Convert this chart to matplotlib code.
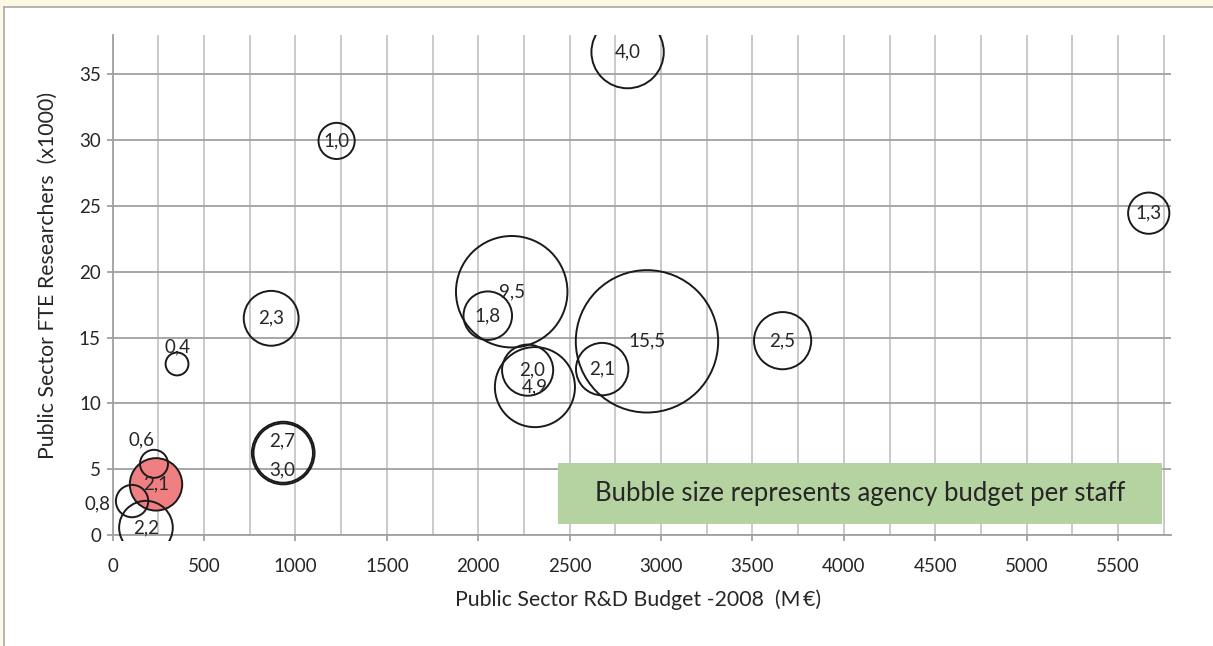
import matplotlib
matplotlib.use('Agg')
from matplotlib import pyplot as plt
from matplotlib.patches import Rectangle
from matplotlib.lines import Line2D
from matplotlib.ticker import MultipleLocator

plt.rcParams['font.family'] = ['Lato', 'DejaVu Sans']

# Data
budget = [2817, 1225, 5668, 2183, 2052, 2923, 3665, 867, 352, 2270, 2310, 2678, 933, 933, 226, 237, 106, 182]
researchers = [36.7, 29.95, 24.46, 18.49, 16.67, 14.72, 14.77, 16.47, 13.0, 12.53, 11.24, 12.61,
               6.23, 6.23, 5.41, 3.85, 2.58, 0.56]
budget_per_staff = [4.0, 1.0, 1.3, 9.5, 1.8, 15.5, 2.5, 2.3, 0.4, 2.0, 4.9, 2.1, 2.7, 3.0, 0.6, 2.1, 0.8, 2.2]
labels = ['4,0', '1,0', '1,3', '9,5', '1,8', '15,5', '2,5', '2,3', '0,4', '2,0', '4,9', '2,1',
          '2,7', '3,0', '0,6', '2,1', '0,8', '2,2']
highlight = 15  # the red bubble

# label offsets in points for the few labels not centred on their bubble
label_offsets = {8: (0, 12), 9: (3, 0), 12: (-1, 9), 13: (-1, -12), 14: (-9, 17), 16: (-25, -2)}

text_color = '#262626'
fig = plt.figure(figsize=(12.13, 6.46), dpi=100)
ax = fig.add_axes([0.0929, 0.1718, 0.9654 - 0.0929, 0.9458 - 0.1718])

# bubble area proportional to size (Excel default)
scale = 678
sizes = [v * scale for v in budget_per_staff]

# plot area clip, a little below the x axis like Excel
clip = Rectangle((0, -0.012), 1, 1.012, transform=ax.transAxes, facecolor='none', edgecolor='none')

# red fill underneath, outlines of all bubbles on top
red = ax.scatter([budget[highlight]], [researchers[highlight]], s=[sizes[highlight]],
                 facecolors='#f07f82', edgecolors='none', zorder=2.5)
rings = ax.scatter(budget, researchers, s=sizes, facecolors='none', edgecolors='#1a1a1a',
                   linewidths=1.4, zorder=3)
red.set_clip_path(clip)
rings.set_clip_path(clip)

for i, lab in enumerate(labels):
    dx, dy = label_offsets.get(i, (0, 0))
    ax.annotate(lab, (budget[i], researchers[i]), xytext=(dx, dy), textcoords='offset points',
                ha='center', va='center', fontsize=13.5, color=text_color, zorder=4)

ax.set_xlim(0, 5790)
ax.set_ylim(0, 38)
ax.xaxis.set_major_locator(MultipleLocator(500))
ax.xaxis.set_minor_locator(MultipleLocator(250))
ax.yaxis.set_major_locator(MultipleLocator(5))

ax.grid(axis='x', which='both', color='#c6c6ca', linewidth=1.3, zorder=0)
ax.grid(axis='y', which='major', color='#a0a0a3', linewidth=1.3, zorder=0)
ax.set_axisbelow(True)
ax.tick_params(axis='x', which='minor', length=0)
ax.tick_params(axis='both', which='major', direction='out', length=4.5, width=1.3, color='#a0a0a3',
               labelsize=13.5, labelcolor=text_color)
ax.tick_params(axis='x', pad=12)
ax.tick_params(axis='y', pad=4)

for side in ['top', 'right']:
    ax.spines[side].set_visible(False)
for side in ['left', 'bottom']:
    ax.spines[side].set_color('#a0a0a3')
    ax.spines[side].set_linewidth(1.3)

ax.set_xlabel('Public Sector R&D Budget -2008  (M\u2009€)', fontsize=15.3, color=text_color)
ax.set_ylabel('Public Sector FTE Researchers  (x1000)', fontsize=15.3, color=text_color)
ax.xaxis.label.set_va('center')
ax.yaxis.label.set_va('center')
ax.xaxis.set_label_coords(0.496, -0.13)
ax.yaxis.set_label_coords(-0.0611, 0.52)

# note box
ax.add_patch(Rectangle((0.4208, 0.022), 0.9915 - 0.4208, 0.122, transform=ax.transAxes,
                       facecolor='#b5d3a0', edgecolor='none', zorder=5, clip_on=False))
ax.text(0.706, 0.083, 'Bubble size represents agency budget per staff', transform=ax.transAxes,
        ha='center', va='center', fontsize=18.5, color=text_color, zorder=6)

# beige frame at top and left
fig.patches.append(Rectangle((0, 1 - 6 / 646), 1, 6 / 646, transform=fig.transFigure,
                             facecolor='#fdf8e4', edgecolor='none'))
fig.patches.append(Rectangle((0, 0), 3 / 1213, 1, transform=fig.transFigure,
                             facecolor='#fdf8e4', edgecolor='none'))
fig.lines.append(Line2D([3.5 / 1213, 1], [1 - 6.5 / 646, 1 - 6.5 / 646], transform=fig.transFigure,
                        color='#a8a8a8', linewidth=1.2))
fig.lines.append(Line2D([3.5 / 1213, 3.5 / 1213], [0, 1 - 6.5 / 646], transform=fig.transFigure,
                        color='#a8a8a8', linewidth=1.2))

plt.savefig('out.png', dpi=100)
plt.close()
